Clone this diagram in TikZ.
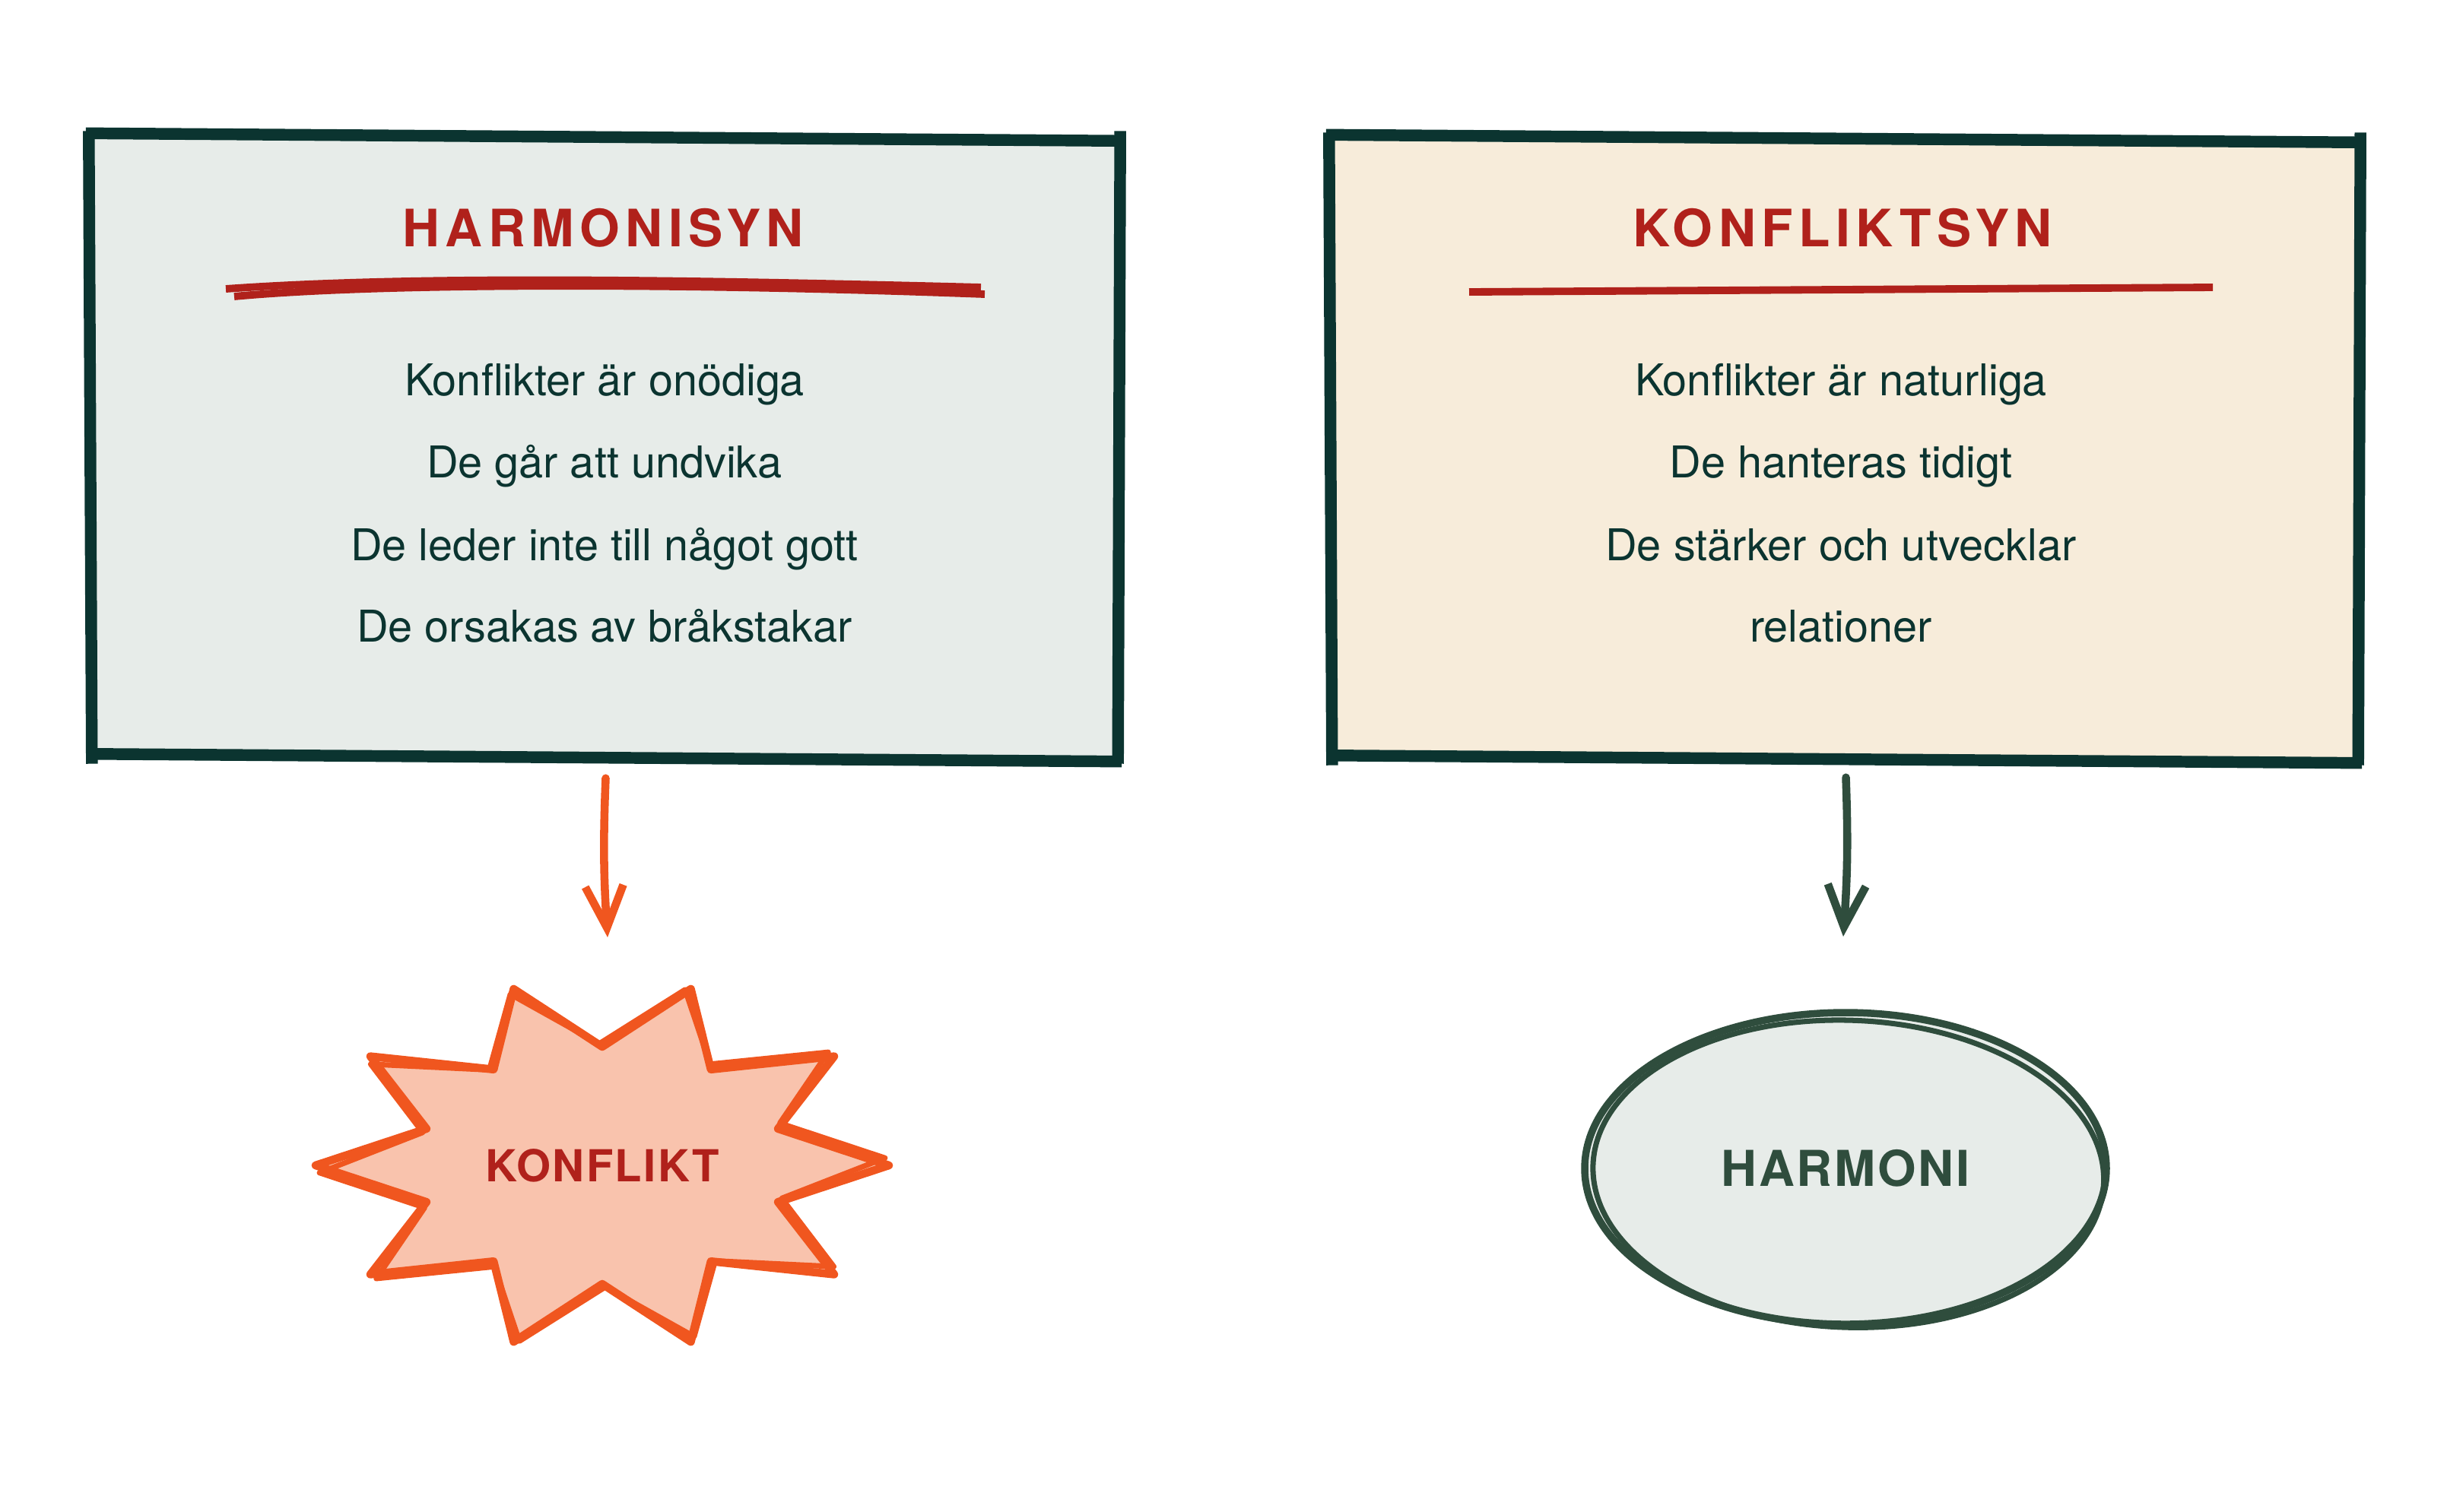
\documentclass[tikz,border=0pt]{standalone}
\usepackage{fontspec}
\setmainfont{TeX Gyre Heros}
\newfontfamily\titlefont[LetterSpace=11]{TeX Gyre Heros}
\newfontfamily\shapefont[LetterSpace=4]{TeX Gyre Heros}
\usetikzlibrary{shapes.geometric,arrows.meta}

\definecolor{ink}{HTML}{0B3430}
\definecolor{titlered}{HTML}{B0211B}
\definecolor{mist}{HTML}{E7ECE9}
\definecolor{cream}{HTML}{F7ECDA}
\definecolor{flame}{HTML}{F0561F}
\definecolor{peach}{HTML}{F9C3AD}
\definecolor{moss}{HTML}{2F4D3D}

\begin{document}
\begin{tikzpicture}[
  viewbox/.style = {minimum width=13.5cm, minimum height=8.17cm, inner sep=0pt},
  edge/.style = {ink, line width=4.4pt},
  title/.style = {font=\titlefont\bfseries\fontsize{19.3}{23}\selectfont, text=titlered},
  rule/.style = {titlered, line width=2.8pt},
  item/.style = {font=\fontsize{16.4}{20}\selectfont, text=ink, anchor=base},
  conn/.style = {line width=3pt, line cap=round, line join=round, -{Straight Barb[length=5.5mm,width=5mm]}},
  label/.style = {font=\shapefont\bfseries\fontsize{#1}{20}\selectfont}
]
\useasboundingbox (0,0) rectangle (32.18,-19.88);

% the two views
\node[viewbox, fill=mist] (harmonisyn) at (7.945,-5.895) {};
\node[viewbox, fill=cream] (konfliktsyn) at (24.255,-5.915) {};
\foreach \b in {harmonisyn,konfliktsyn} {
  \draw[edge] ([shift={(-0.06,0.05)}]\b.north west) -- ([shift={(0.05,-0.05)}]\b.north east);
  \draw[edge] ([shift={(0.03,0.08)}]\b.north east) -- ([shift={(0,-0.06)}]\b.south east);
  \draw[edge] ([shift={(0.05,-0.03)}]\b.south east) -- ([shift={(-0.05,0.07)}]\b.south west);
  \draw[edge] ([shift={(0.02,-0.06)}]\b.south west) -- ([shift={(-0.02,0.08)}]\b.north west);
}

% left
\node[title] (t1) at (7.93,-3.0) {HARMONISYN};
\draw[rule] (2.97,-3.80) .. controls (5.5,-3.62) and (9,-3.68) .. (12.9,-3.78);
\draw[rule] (3.08,-3.90) .. controls (5,-3.72) and (9,-3.72) .. (12.95,-3.87);
\node[item] (h1) at (7.95,-5.20) {Konflikter är onödiga};
\node[item] (h2) at (7.95,-6.28) {De går att undvika};
\node[item] (h3) at (7.95,-7.37) {De leder inte till något gott};
\node[item] (h4) at (7.95,-8.44) {De orsakas av bråkstakar};

% right
\node[title] (t2) at (24.23,-3.0) {KONFLIKTSYN};
\draw[rule] (19.32,-3.84) -- (29.1,-3.78);
\node[item] (k1) at (24.21,-5.20) {Konflikter är naturliga};
\node[item] (k2) at (24.21,-6.28) {De hanteras tidigt};
\node[item] (k3) at (24.21,-7.37) {De stärker och utvecklar};
\node[item] (k4) at (24.21,-8.44) {relationer};

% outcomes
\coordinate (kc) at (7.92,-15.33);
\filldraw[fill=peach, draw=flame, line width=3pt, line join=round, shift={(kc)}]
  (0:3.77 and 2.44) \foreach \a [evaluate=\a as \m using \a+18] in {0,36,...,324} { -- (\a:3.77 and 2.44) -- (\m:2.43 and 1.56) } -- cycle;
\draw[flame, line width=2pt, line join=round, shift={(kc)}, rotate=1.5]
  (0:3.72 and 2.40) \foreach \a [evaluate=\a as \m using \a+18] in {0,36,...,324} { -- (\a:3.72 and 2.40) -- (\m:2.47 and 1.60) } -- cycle;
\node[label=16.5, text=titlered] (konflikt) at (kc) {KONFLIKT};

\node[ellipse, minimum width=6.86cm, minimum height=4.1cm, fill=mist, draw=moss, line width=2.7pt,
  label=18.5, text=moss] (harmoni) at (24.27,-15.37) {HARMONI};
\draw[moss, line width=2pt, rotate around={-2:(harmoni.center)}] ([shift={(0.04,-0.07)}]harmoni.center) ellipse (3.36 and 2.02);

\draw[conn, flame] ([shift={(0.02,-0.25)}]harmonisyn.south) to[bend right=3] ([shift={(0.07,3.0)}]kc);
\draw[conn, moss] ([shift={(0.02,-0.22)}]konfliktsyn.south) to[bend left=3] ([shift={(-0.03,3.05)}]harmoni.center);
\end{tikzpicture}
\end{document}
